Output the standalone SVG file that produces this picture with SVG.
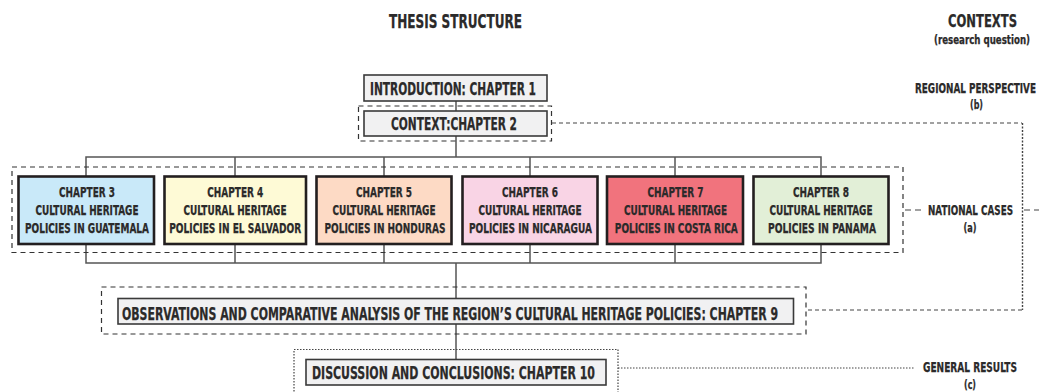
<svg xmlns="http://www.w3.org/2000/svg" width="1039" height="392" viewBox="0 0 1039 392">
<style>
text{font-family:"Liberation Sans Narrow","DejaVu Sans Condensed","Liberation Sans",sans-serif;font-weight:bold;fill:#2b2a2a;stroke:#2b2a2a;stroke-width:0.25;text-anchor:middle}
.t{font-size:19.5px}
.m{font-size:17px}
.c{font-size:13.5px}
.s{font-size:11.5px}
.p{font-size:12.5px}
.gray{fill:#f1f1f2;stroke:#3a3a3a;stroke-width:1.6}
.ch{stroke:#231f20;stroke-width:2.6}
.dash{fill:none;stroke:#333;stroke-width:1.2;stroke-dasharray:5,4}
.dot{fill:none;stroke:#444;stroke-width:1.2;stroke-dasharray:1.5,1.5}
.conn{fill:none;stroke:#555;stroke-width:1.5}
</style>
<rect width="1039" height="392" fill="#fff"/>
<g id="titles">
<text class="t" x="455.5" y="28" textLength="133" lengthAdjust="spacingAndGlyphs">THESIS STRUCTURE</text>
<text class="m" x="982.5" y="27" textLength="69" lengthAdjust="spacingAndGlyphs">CONTEXTS</text>
<text class="s" x="982" y="44" textLength="96" lengthAdjust="spacingAndGlyphs">(research question)</text>
</g>
<g id="connectors">
<path class="conn" d="M456 101V111M456 136V157M86 176V157H821V176M235 157V176M384 157V176M530 157V176M675 157V176"/>
<path class="conn" d="M86 244V263H821V244M235 244V263M384 244V263M530 244V263M675 244V263M456 263V298M456 324V359"/>
<path fill="none" stroke="#444" stroke-width="1.2" stroke-dasharray="4,3" d="M552 123H1022"/>
<path fill="none" stroke="#444" stroke-width="1.4" stroke-dasharray="2,1.5" d="M1022.5 123V310"/>
<path fill="none" stroke="#444" stroke-width="1.2" stroke-dasharray="4,3" d="M1022 310H806"/>
<path fill="none" stroke="#444" stroke-width="1.2" stroke-dasharray="6,4" d="M905 210H924M1024 210H1039"/>
<path class="dot" d="M618 368H915"/>
</g>
<g id="intro">
<rect class="gray" x="364" y="75" width="183" height="26"/>
<text class="m" x="453" y="94.5" textLength="166" lengthAdjust="spacingAndGlyphs">INTRODUCTION: CHAPTER 1</text>
</g>
<g id="context">
<rect class="dash" x="358.5" y="106" width="193" height="35"/>
<rect class="gray" x="364" y="111" width="183" height="25"/>
<text class="m" x="454" y="129.5" textLength="126" lengthAdjust="spacingAndGlyphs">CONTEXT:CHAPTER 2</text>
</g>
<g id="national-cases">
<rect class="dash" x="12" y="167" width="891" height="85.5"/>
</g>
<g id="ch3">
<rect class="ch" x="18.5" y="176.5" width="135.5" height="67.5" fill="#c9e9f9"/>
<text class="c" x="87" y="197" textLength="56" lengthAdjust="spacingAndGlyphs">CHAPTER 3</text>
<text class="c" x="87" y="215" textLength="103" lengthAdjust="spacingAndGlyphs">CULTURAL HERITAGE</text>
<text class="c" x="87" y="233" textLength="124" lengthAdjust="spacingAndGlyphs">POLICIES IN GUATEMALA</text>
</g>
<g id="ch4">
<rect class="ch" x="164.5" y="176.5" width="141.5" height="67.5" fill="#fefad6"/>
<text class="c" x="235.3" y="197" textLength="56" lengthAdjust="spacingAndGlyphs">CHAPTER 4</text>
<text class="c" x="235" y="215" textLength="103" lengthAdjust="spacingAndGlyphs">CULTURAL HERITAGE</text>
<text class="c" x="235.2" y="233" textLength="132" lengthAdjust="spacingAndGlyphs">POLICIES IN EL SALVADOR</text>
</g>
<g id="ch5">
<rect class="ch" x="316.5" y="176.5" width="135" height="67.5" fill="#fddac5"/>
<text class="c" x="384" y="197" textLength="56" lengthAdjust="spacingAndGlyphs">CHAPTER 5</text>
<text class="c" x="384" y="215" textLength="103" lengthAdjust="spacingAndGlyphs">CULTURAL HERITAGE</text>
<text class="c" x="385" y="233" textLength="121" lengthAdjust="spacingAndGlyphs">POLICIES IN HONDURAS</text>
</g>
<g id="ch6">
<rect class="ch" x="462.5" y="176.5" width="135" height="67.5" fill="#f9d4e5"/>
<text class="c" x="530" y="197" textLength="56" lengthAdjust="spacingAndGlyphs">CHAPTER 6</text>
<text class="c" x="530" y="215" textLength="103" lengthAdjust="spacingAndGlyphs">CULTURAL HERITAGE</text>
<text class="c" x="530.5" y="233" textLength="123" lengthAdjust="spacingAndGlyphs">POLICIES IN NICARAGUA</text>
</g>
<g id="ch7">
<rect class="ch" x="607" y="176.5" width="136" height="67.5" fill="#f1737d"/>
<text class="c" x="675.5" y="197" textLength="56" lengthAdjust="spacingAndGlyphs">CHAPTER 7</text>
<text class="c" x="675.5" y="215" textLength="103" lengthAdjust="spacingAndGlyphs">CULTURAL HERITAGE</text>
<text class="c" x="676.3" y="233" textLength="123" lengthAdjust="spacingAndGlyphs">POLICIES IN COSTA RICA</text>
</g>
<g id="ch8">
<rect class="ch" x="753.5" y="176.5" width="135" height="67.5" fill="#e2efd7"/>
<text class="c" x="821" y="197" textLength="56" lengthAdjust="spacingAndGlyphs">CHAPTER 8</text>
<text class="c" x="821" y="215" textLength="103" lengthAdjust="spacingAndGlyphs">CULTURAL HERITAGE</text>
<text class="c" x="822" y="233" textLength="108" lengthAdjust="spacingAndGlyphs">POLICIES IN PANAMA</text>
</g>
<g id="label-national">
<text class="c" x="970.5" y="215" textLength="85" lengthAdjust="spacingAndGlyphs">NATIONAL CASES</text>
<text class="p" x="970" y="232" textLength="13" lengthAdjust="spacingAndGlyphs">(a)</text>
</g>
<g id="label-regional">
<text class="c" x="975.5" y="93" textLength="121" lengthAdjust="spacingAndGlyphs">REGIONAL PERSPECTIVE</text>
<text class="p" x="976.5" y="109" textLength="13" lengthAdjust="spacingAndGlyphs">(b)</text>
</g>
<g id="ch9">
<rect class="dash" x="101.5" y="287" width="704.5" height="47"/>
<rect class="gray" x="118" y="298.5" width="675.5" height="25.5"/>
<text class="m" x="450" y="320" textLength="656" lengthAdjust="spacingAndGlyphs">OBSERVATIONS AND COMPARATIVE ANALYSIS OF THE REGION’S CULTURAL HERITAGE POLICIES: CHAPTER 9</text>
</g>
<g id="ch10">
<rect class="dot" x="294" y="349.5" width="324" height="60"/>
<rect class="gray" x="306" y="359.5" width="300" height="25.5"/>
<text class="m" x="453.5" y="379" textLength="283" lengthAdjust="spacingAndGlyphs">DISCUSSION AND CONCLUSIONS: CHAPTER 10</text>
</g>
<g id="label-general">
<text class="c" x="970" y="372" textLength="94" lengthAdjust="spacingAndGlyphs">GENERAL RESULTS</text>
<text class="p" x="970" y="388.5" textLength="12" lengthAdjust="spacingAndGlyphs">(c)</text>
</g>
</svg>
